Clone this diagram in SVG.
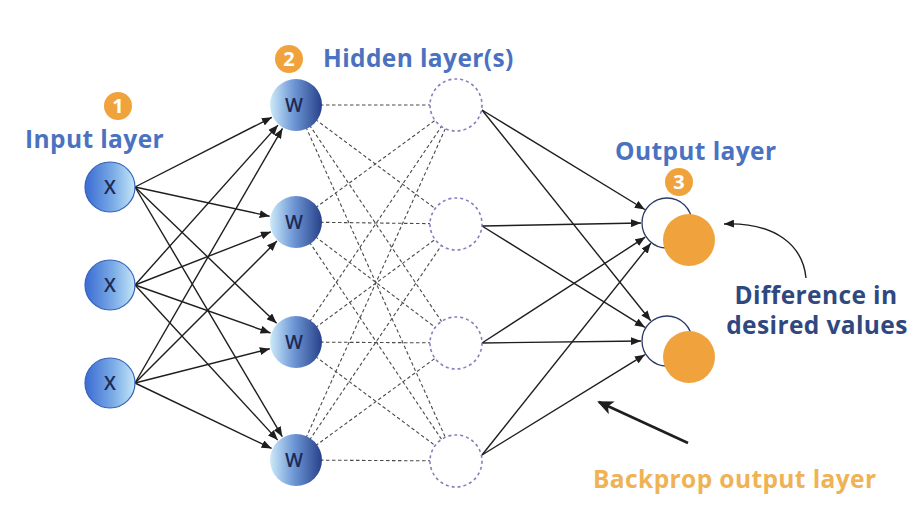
<svg xmlns="http://www.w3.org/2000/svg" width="913" height="511" viewBox="0 0 913 511">
<style>
.lbl{font-family:"Open Sans","Liberation Sans",sans-serif;font-weight:700;font-size:24.5px;letter-spacing:0.4px;}
.blue{fill:#4a72c0;}
.navy{fill:#2f4880;}
.orng{fill:#efb254;}
.sol{stroke:#1e1e1e;stroke-width:1.4;fill:none;marker-end:url(#ah);}
.dsh{stroke:#4a4a4a;stroke-width:1.1;stroke-dasharray:3.5 2.5;fill:none;}
.nx{fill:url(#gx);stroke:#3762b9;stroke-width:1.2;}
.nw{fill:url(#gw);}
.nd{fill:#fff;stroke:#8c7bbf;stroke-width:1.6;stroke-dasharray:3 3;}
.badge{fill:#f0a33c;}
.bt{font-family:"Open Sans","Liberation Sans",sans-serif;font-weight:700;font-size:20px;fill:#fff;text-anchor:middle;}
.nt{font-family:"Open Sans","Liberation Sans",sans-serif;font-weight:600;font-size:19px;fill:#1d2a55;text-anchor:middle;}
</style>
<defs>
<linearGradient id="gx" x1="0" y1="0" x2="1" y2="0">
<stop offset="0" stop-color="#3a6bd2"/>
<stop offset="0.55" stop-color="#79aae6"/>
<stop offset="1" stop-color="#c4e6f8"/>
</linearGradient>
<linearGradient id="gw" x1="0" y1="0" x2="1" y2="0">
<stop offset="0" stop-color="#cdeaf9"/>
<stop offset="0.45" stop-color="#6f98d6"/>
<stop offset="1" stop-color="#27418a"/>
</linearGradient>
<marker id="ah" markerUnits="userSpaceOnUse" markerWidth="10" markerHeight="8" refX="10" refY="4" orient="auto">
<path d="M0,0 L10,4 L0,8 z" fill="#1e1e1e"/>
</marker>
<marker id="ahb" markerUnits="userSpaceOnUse" markerWidth="16" markerHeight="14" refX="14" refY="7" orient="auto">
<path d="M0,0 L16,7 L0,14 L4,7 z" fill="#1e1e1e"/>
</marker>
</defs>
<rect width="913" height="511" fill="#fff"/>

<g id="connectors">
<line class="sol" x1="135" y1="187" x2="271.9" y2="117.3"/>
<line class="sol" x1="135" y1="187" x2="269.6" y2="216.3"/>
<line class="sol" x1="135" y1="187" x2="276.6" y2="323.3"/>
<line class="sol" x1="135" y1="187" x2="282.3" y2="436.7"/>
<line class="sol" x1="135" y1="285" x2="278" y2="125.1"/>
<line class="sol" x1="135" y1="285" x2="270.9" y2="231.8"/>
<line class="sol" x1="135" y1="285" x2="270.5" y2="333"/>
<line class="sol" x1="135" y1="285" x2="277.7" y2="440.1"/>
<line class="sol" x1="135" y1="383" x2="282.5" y2="128.4"/>
<line class="sol" x1="135" y1="383" x2="276.9" y2="241.1"/>
<line class="sol" x1="135" y1="383" x2="269.8" y2="348.7"/>
<line class="sol" x1="135" y1="383" x2="271.6" y2="448.4"/>
<line class="dsh" x1="296" y1="105" x2="456" y2="105"/>
<line class="dsh" x1="296" y1="105" x2="456" y2="224"/>
<line class="dsh" x1="296" y1="105" x2="456" y2="343"/>
<line class="dsh" x1="296" y1="105" x2="456" y2="461"/>
<line class="dsh" x1="296" y1="222" x2="456" y2="105"/>
<line class="dsh" x1="296" y1="222" x2="456" y2="224"/>
<line class="dsh" x1="296" y1="222" x2="456" y2="343"/>
<line class="dsh" x1="296" y1="222" x2="456" y2="461"/>
<line class="dsh" x1="296" y1="342" x2="456" y2="105"/>
<line class="dsh" x1="296" y1="342" x2="456" y2="224"/>
<line class="dsh" x1="296" y1="342" x2="456" y2="343"/>
<line class="dsh" x1="296" y1="342" x2="456" y2="461"/>
<line class="dsh" x1="296" y1="460" x2="456" y2="105"/>
<line class="dsh" x1="296" y1="460" x2="456" y2="224"/>
<line class="dsh" x1="296" y1="460" x2="456" y2="343"/>
<line class="dsh" x1="296" y1="460" x2="456" y2="461"/>
<line class="sol" x1="482" y1="110" x2="644.8" y2="209.5"/>
<line class="sol" x1="482" y1="110" x2="650.7" y2="320.7"/>
<line class="sol" x1="482" y1="226" x2="641" y2="223"/>
<line class="sol" x1="482" y1="226" x2="644.9" y2="327.3"/>
<line class="sol" x1="482" y1="343" x2="645.2" y2="237.2"/>
<line class="sol" x1="482" y1="343" x2="641" y2="341"/>
<line class="sol" x1="482" y1="455" x2="650.8" y2="243.3"/>
<line class="sol" x1="482" y1="455" x2="644.9" y2="354.7"/>
<path class="sol" d="M806,278 C803,246 776,222 724,224"/>
<line x1="688" y1="443" x2="599" y2="402" stroke="#1e1e1e" stroke-width="2.6" marker-end="url(#ahb)"/>
</g>

<g id="input1"><circle class="nx" cx="110" cy="187" r="25"/><text class="nt" x="110" y="194">X</text></g>
<g id="input2"><circle class="nx" cx="110" cy="285" r="25"/><text class="nt" x="110" y="292">X</text></g>
<g id="input3"><circle class="nx" cx="110" cy="383" r="25"/><text class="nt" x="110" y="390">X</text></g>

<g id="hiddenW1"><circle class="nw" cx="296" cy="105" r="26"/><text class="nt" x="294" y="112">W</text></g>
<g id="hiddenW2"><circle class="nw" cx="296" cy="222" r="26"/><text class="nt" x="294" y="229">W</text></g>
<g id="hiddenW3"><circle class="nw" cx="296" cy="342" r="26"/><text class="nt" x="294" y="349">W</text></g>
<g id="hiddenW4"><circle class="nw" cx="296" cy="460" r="26"/><text class="nt" x="294" y="467">W</text></g>

<g id="hiddenD1"><circle class="nd" cx="456" cy="105" r="26"/></g>
<g id="hiddenD2"><circle class="nd" cx="456" cy="224" r="26"/></g>
<g id="hiddenD3"><circle class="nd" cx="456" cy="343" r="26"/></g>
<g id="hiddenD4"><circle class="nd" cx="456" cy="461" r="26"/></g>

<g id="output1"><circle cx="667" cy="223" r="25" fill="#fff" stroke="#2b3a66" stroke-width="1.3"/><circle cx="689" cy="240" r="26" fill="#f0a33c"/></g>
<g id="output2"><circle cx="667" cy="341" r="25" fill="#fff" stroke="#2b3a66" stroke-width="1.3"/><circle cx="689" cy="357" r="26" fill="#f0a33c"/></g>

<g id="badge1"><circle class="badge" cx="118" cy="106" r="14"/><text class="bt" x="118" y="113">1</text></g>
<g id="badge2"><circle class="badge" cx="289" cy="59" r="14"/><text class="bt" x="289" y="66">2</text></g>
<g id="badge3"><circle class="badge" cx="679" cy="182" r="14"/><text class="bt" x="679" y="189">3</text></g>

<g id="labels">
<text class="lbl blue" x="25" y="148">Input layer</text>
<text class="lbl blue" x="323" y="67">Hidden layer(s)</text>
<text class="lbl blue" x="615" y="160">Output layer</text>
<text class="lbl navy" x="816" y="304" text-anchor="middle">Difference in</text>
<text class="lbl navy" x="817" y="334" text-anchor="middle">desired values</text>
<text class="lbl orng" x="593" y="488">Backprop output layer</text>
</g>
</svg>
